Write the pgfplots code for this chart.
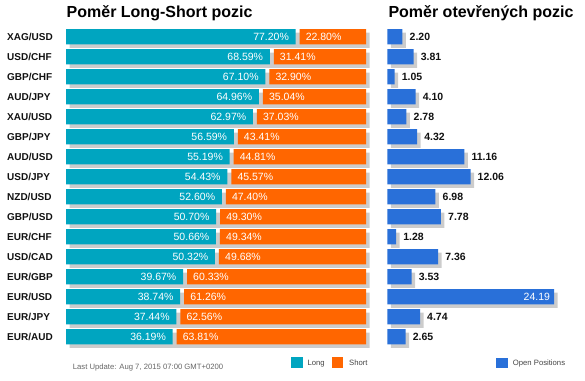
\documentclass[border=0pt]{standalone}
\usepackage{fontspec}
\setmainfont{Liberation Sans}
\usepackage{pgfplots}
\usepackage{pgfplotstable}
\pgfplotsset{compat=1.18}
\definecolor{cteal}{RGB}{0,165,192}
\definecolor{corange}{RGB}{255,102,0}
\definecolor{cblue}{RGB}{41,112,217}
\definecolor{cshadow}{RGB}{204,204,204}
\definecolor{ctext}{RGB}{17,17,17}
\definecolor{cgrey}{RGB}{102,102,102}
\definecolor{clegend}{RGB}{68,68,68}

\pgfplotstableread{
idx pair long short open
0 XAG/USD 77.20 22.80 2.20
1 USD/CHF 68.59 31.41 3.81
2 GBP/CHF 67.10 32.90 1.05
3 AUD/JPY 64.96 35.04 4.10
4 XAU/USD 62.97 37.03 2.78
5 GBP/JPY 56.59 43.41 4.32
6 AUD/USD 55.19 44.81 11.16
7 USD/JPY 54.43 45.57 12.06
8 NZD/USD 52.60 47.40 6.98
9 GBP/USD 50.70 49.30 7.78
10 EUR/CHF 50.66 49.34 1.28
11 USD/CAD 50.32 49.68 7.36
12 EUR/GBP 39.67 60.33 3.53
13 EUR/USD 38.74 61.26 24.19
14 EUR/JPY 37.44 62.56 4.74
15 EUR/AUD 36.19 63.81 2.65
}\datatable

\tikzset{barlabel/.style={inner sep=0pt, text=white, font=\fontsize{10.5}{12}\selectfont}}
\pgfplotsset{
 panel/.style={scale only axis, height=320pt, ymin=-0.5, ymax=15.5, y dir=reverse,
   axis line style={draw=none}, xtick=\empty, ytick=\empty, major tick length=0pt,
   clip=false, bar width=15.3pt, anchor=north west},
 leftpanel/.style={panel, width=300pt, xmin=0, xmax=100},
 rightpanel/.style={panel, width=193.2pt, xmin=0, xmax=28},
}

\begin{document}
\begin{tikzpicture}
\path[use as bounding box] (0pt,0pt) rectangle (585pt,380pt);
% shadows
\begin{axis}[leftpanel, at={(69.5pt,349.8pt)}]
\addplot[xbar, fill=cshadow, draw=none] table[x expr=\thisrow{long}+\thisrow{short}, y=idx]{\datatable};
\end{axis}
\begin{axis}[rightpanel, at={(390.8pt,349.8pt)}]
\addplot[xbar, fill=cshadow, draw=none] table[x=open, y=idx]{\datatable};
\end{axis}
% left bars
\begin{axis}[leftpanel, at={(66pt,353.3pt)}, xbar stacked,
  ytick={0,...,15}, yticklabels from table={\datatable}{pair},
  yticklabel style={anchor=west, inner sep=0pt, xshift=-59pt, text=ctext,
     font=\fontsize{10}{12}\selectfont\bfseries}]
\addplot[fill=cteal, draw=none] table[x expr=\thisrow{long}-0.67, y=idx]{\datatable};
\addplot[fill=none, draw=none, forget plot] table[x expr=1.34, y=idx]{\datatable};
\addplot[fill=corange, draw=none] table[x expr=\thisrow{short}-0.67, y=idx]{\datatable};
\end{axis}
% left labels
\begin{axis}[leftpanel, at={(66pt,353.3pt)}]
\addplot[xbar, fill=none, draw=none, point meta=explicit symbolic,
  nodes near coords={\pgfplotspointmeta\%},
  every node near coord/.append style={barlabel, anchor=east, xshift=-6.5pt}]
  table[x expr=\thisrow{long}-0.67, y=idx, meta=long]{\datatable};
\addplot[xbar, fill=none, draw=none, point meta=explicit symbolic,
  nodes near coords={\pgfplotspointmeta\%},
  every node near coord/.append style={barlabel, anchor=west, xshift=6pt}]
  table[x expr=\thisrow{long}+0.67, y=idx, meta=short]{\datatable};
\end{axis}
% right bars
\begin{axis}[rightpanel, at={(387.3pt,353.3pt)}]
\addplot[xbar, fill=cblue, draw=none] table[x=open, y=idx]{\datatable};
\addplot[xbar, fill=none, draw=none, restrict x to domain=0:20, point meta=explicit symbolic,
  nodes near coords={\pgfplotspointmeta},
  every node near coord/.append style={anchor=west, inner sep=0pt, xshift=7pt, text=ctext,
     font=\fontsize{10.5}{12}\selectfont\bfseries}]
  table[x=open, y=idx, meta=open]{\datatable};
\addplot[xbar, fill=none, draw=none, restrict x to domain=20:30, point meta=explicit symbolic,
  nodes near coords={\pgfplotspointmeta},
  every node near coord/.append style={barlabel, anchor=east, xshift=-4pt}]
  table[x=open, y=idx, meta=open]{\datatable};
\end{axis}
% titles
\node[anchor=base west, inner sep=0pt, font=\fontsize{16}{18}\selectfont\bfseries, text=black]
  at (66.5pt,362.7pt) {Poměr Long-Short pozic};
\node[anchor=base west, inner sep=0pt, font=\fontsize{16}{18}\selectfont\bfseries, text=black]
  at (388.3pt,362.7pt) {Poměr otevřených pozic};
% footer
\node[anchor=base west, inner sep=0pt, font=\fontsize{7.7}{9}\selectfont, text=cgrey]
  at (72.7pt,10.5pt) {Last Update: Aug 7, 2015 07:00 GMT+0200};
\fill[cteal] (291pt,12pt) rectangle (302.7pt,22.7pt);
\node[anchor=base west, inner sep=0pt, font=\fontsize{7.7}{9}\selectfont, text=clegend]
  at (307.3pt,14.5pt) {Long};
\fill[corange] (332pt,12pt) rectangle (343.3pt,22.7pt);
\node[anchor=base west, inner sep=0pt, font=\fontsize{7.7}{9}\selectfont, text=clegend]
  at (349pt,14.5pt) {Short};
\fill[cblue] (496pt,11.7pt) rectangle (507.7pt,22.3pt);
\node[anchor=base west, inner sep=0pt, font=\fontsize{7.7}{9}\selectfont, text=clegend]
  at (512.7pt,14.5pt) {Open Positions};
\end{tikzpicture}
\end{document}
